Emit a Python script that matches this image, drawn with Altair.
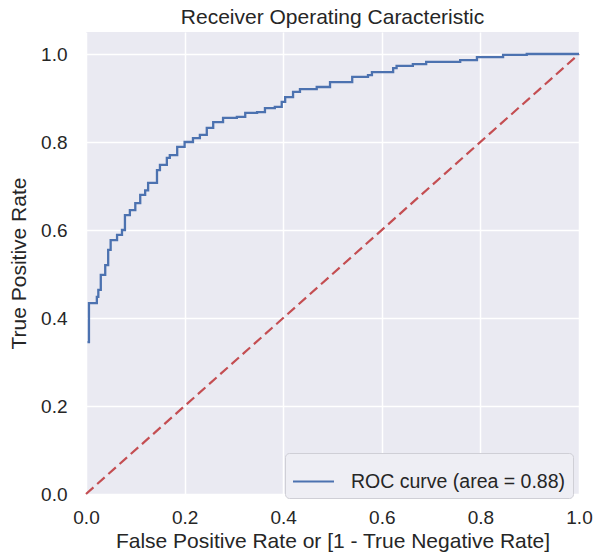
import altair as alt
import pandas as pd

# ROC curve points
fpr = [0.003, 0.006, 0.022, 0.025, 0.030, 0.039, 0.045, 0.050, 0.063, 0.073,
       0.079, 0.089, 0.100, 0.110, 0.120, 0.126, 0.144, 0.150, 0.164, 0.170,
       0.185, 0.200, 0.217, 0.231, 0.245, 0.258, 0.278, 0.306, 0.323, 0.347,
       0.363, 0.383, 0.397, 0.404, 0.420, 0.434, 0.468, 0.495, 0.540, 0.572,
       0.580, 0.623, 0.630, 0.663, 0.690, 0.759, 0.793, 0.846, 0.894, 1.000]
tpr = [0.345, 0.434, 0.448, 0.464, 0.498, 0.520, 0.555, 0.577, 0.589, 0.600,
       0.634, 0.645, 0.661, 0.680, 0.690, 0.707, 0.736, 0.748, 0.764, 0.770,
       0.789, 0.800, 0.809, 0.816, 0.832, 0.845, 0.855, 0.857, 0.866, 0.868,
       0.877, 0.880, 0.891, 0.902, 0.914, 0.920, 0.925, 0.936, 0.948, 0.952,
       0.959, 0.968, 0.973, 0.977, 0.982, 0.986, 0.993, 0.998, 1.000, 1.000]
series_label = "ROC curve (area = 0.88)"
diag_x = [0.0, 1.0]
diag_y = [0.0, 1.0]
tick_vals = [0.0, 0.2, 0.4, 0.6, 0.8, 1.0]

roc = pd.DataFrame({"fpr": fpr, "tpr": tpr, "series": series_label})
diag = pd.DataFrame({"fpr": diag_x, "tpr": diag_y})

FONT = "Liberation Sans"
TXT = "#262626"

xscale = alt.Scale(domain=[0, 1], nice=False, zero=False)
yscale = alt.Scale(domain=[0, 1.05], nice=False, zero=False)
xaxis = alt.Axis(values=tick_vals, format=".1f", title="False Positive Rate or [1 - True Negative Rate]",
                 labelPadding=14, titlePadding=3, labelFlush=False)
yaxis = alt.Axis(values=tick_vals, format=".1f", title="True Positive Rate",
                 labelPadding=19, titlePadding=11, labelFlush=False)

curve = alt.Chart(roc).mark_line(interpolate="step-after", strokeWidth=2.3, clip=True).encode(
    x=alt.X("fpr:Q", scale=xscale, axis=xaxis),
    y=alt.Y("tpr:Q", scale=yscale, axis=yaxis),
    color=alt.Color("series:N", scale=alt.Scale(domain=[series_label], range=["#4c72b0"]),
                    legend=alt.Legend(title=None, orient="none", legendX=199, legendY=421,
                                      symbolType="stroke", symbolSize=1681, symbolStrokeWidth=2,
                                      labelFontSize=19.5, labelFont=FONT, labelColor=TXT,
                                      labelLimit=0, labelOffset=16, padding=7,
                                      fillColor="#eeeef4", strokeColor="#cfcfd6", cornerRadius=4)),
)

diagonal = alt.Chart(diag).mark_line(color="#c44e52", strokeDash=[10, 5], strokeWidth=2.2).encode(
    x=alt.X("fpr:Q", scale=xscale),
    y=alt.Y("tpr:Q", scale=yscale),
)

chart = alt.layer(diagonal, curve).properties(
    width=493, height=462,
    title=alt.TitleParams("Receiver Operating Caracteristic", fontSize=21, font=FONT,
                          fontWeight="normal", color=TXT, anchor="middle",
                          baseline="bottom", offset=5, dy=22),
    autosize=alt.AutoSizeParams(type="none"),
    padding={"left": 86, "top": 32, "right": 16, "bottom": 64},
    background="white",
).configure_view(stroke=None, fill="#eaeaf2").configure_axis(
    grid=True, gridColor="white", gridWidth=1.5, domain=False, ticks=False,
    labelFont=FONT, labelFontSize=19, labelColor=TXT,
    titleFont=FONT, titleFontSize=21, titleFontWeight="normal", titleColor=TXT,
)

chart.save("out.html", embed_options={"renderer": "svg", "actions": False})
